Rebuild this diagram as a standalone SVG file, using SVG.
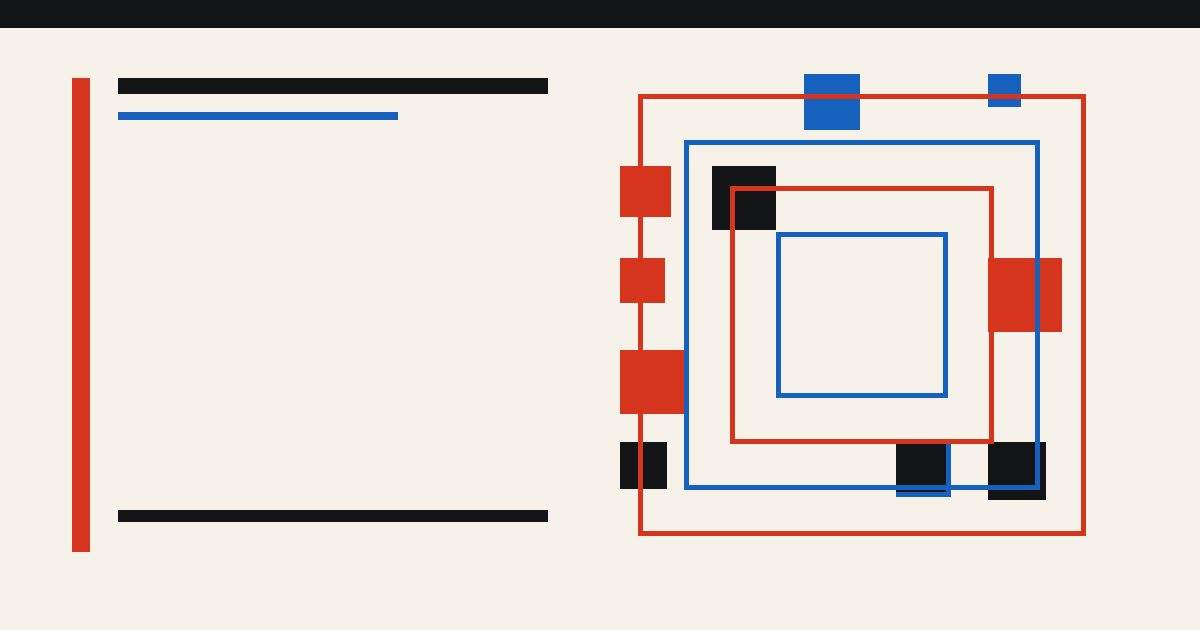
<svg xmlns="http://www.w3.org/2000/svg" width="1200" height="630" viewBox="0 0 1200 630">
  <style>
    .ink { fill: #131416; }
    .red { fill: #D5351C; }
    .blue { fill: #1660BE; }
    .frame { fill: none; stroke-width: 5; }
    .fr { stroke: #D5351C; }
    .fb { stroke: #1660BE; }
  </style>
  <rect x="0" y="0" width="1200" height="630" fill="#F6F2EA"/>
  <rect class="ink" x="0" y="0" width="1200" height="28"/>

  <g id="left-panel">
    <rect class="red" x="72" y="78" width="18" height="474"/>
    <rect class="ink" x="118" y="78" width="430" height="16"/>
    <rect class="blue" x="118" y="112" width="280" height="8"/>
    <rect class="ink" x="118" y="510" width="430" height="12"/>
  </g>

  <g id="blocks">
    <rect class="blue" x="804" y="74" width="56" height="56"/>
    <rect class="blue" x="988" y="74" width="33" height="33"/>
    <rect class="red" x="620" y="166" width="51" height="51"/>
    <rect class="ink" x="712" y="166" width="64" height="64"/>
    <rect class="red" x="620" y="258" width="45" height="45"/>
    <rect class="red" x="988" y="258" width="74" height="74"/>
    <rect class="red" x="620" y="350" width="64" height="64"/>
    <rect class="ink" x="620" y="442" width="47" height="47"/>
    <rect class="blue" x="896" y="442" width="55" height="55"/>
    <rect class="ink" x="896" y="442" width="50" height="50"/>
    <rect class="ink" x="988" y="442" width="58" height="58"/>
  </g>

  <g id="frames">
    <rect class="frame fr" x="640.5" y="96.5" width="443" height="437"/>
    <rect class="frame fb" x="686.5" y="142.5" width="351" height="345"/>
    <rect class="frame fr" x="732.5" y="188.5" width="259" height="253"/>
    <rect class="frame fb" x="778.5" y="234.5" width="167" height="161"/>
  </g>
</svg>
